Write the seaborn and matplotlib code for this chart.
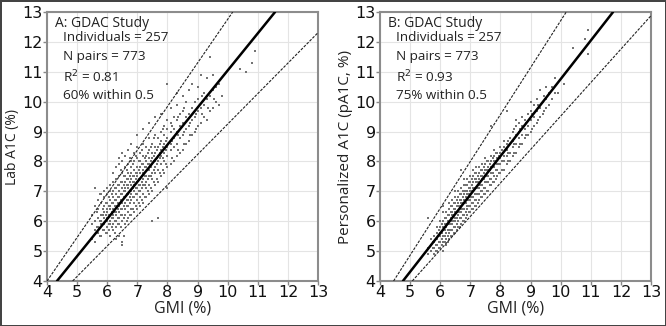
import numpy as np
import pandas as pd
import matplotlib
matplotlib.use("Agg")
import matplotlib.pyplot as plt
import seaborn as sns

# ---------------- data ----------------
ticks = [4, 5, 6, 7, 8, 9, 10, 11, 12, 13]

gmi_levels_a = [5.5, 5.6, 5.7, 5.8, 5.9, 6.0, 6.1, 6.2, 6.3, 6.4, 6.5, 6.6, 6.7, 6.8,
                6.9, 7.0, 7.1, 7.2, 7.3, 7.4, 7.5, 7.6, 7.7, 7.8, 7.9, 8.0, 8.1, 8.2,
                8.3, 8.4, 8.5, 8.6, 8.7, 8.8, 8.9, 9.0, 9.1, 9.2, 9.3, 9.4, 9.5, 9.6,
                9.7, 9.8, 10.4, 10.6, 10.8, 10.9]
a1c_by_level_a = [
    [5.4, 5.9, 6.2],
    [5.3, 5.7, 6.0, 6.5, 7.1],
    [5.6, 5.8, 6.1, 6.4, 6.7],
    [5.5, 5.9, 6.0, 6.2, 6.6, 6.9],
    [5.7, 5.9, 6.1, 6.3, 6.5, 6.8, 7.0],
    [5.6, 5.8, 6.0, 6.1, 6.3, 6.4, 6.6, 6.9, 7.1],
    [5.5, 5.9, 6.0, 6.2, 6.4, 6.5, 6.7, 7.0, 7.2],
    [5.7, 5.9, 6.1, 6.2, 6.4, 6.6, 6.8, 7.0, 7.3, 7.6],
    [5.4, 5.8, 6.0, 6.2, 6.3, 6.5, 6.7, 6.9, 7.1, 7.4, 7.8],
    [5.5, 5.9, 6.1, 6.3, 6.5, 6.6, 6.8, 7.0, 7.2, 7.5, 7.9, 8.1],
    [5.2, 5.3, 6.0, 6.2, 6.4, 6.6, 6.7, 6.9, 7.1, 7.3, 7.6, 8.0, 8.3],
    [5.9, 6.2, 6.4, 6.6, 6.8, 7.0, 7.1, 7.3, 7.5, 7.8, 8.2],
    [6.1, 6.3, 6.5, 6.7, 6.9, 7.1, 7.2, 7.4, 7.6, 7.9, 8.4],
    [6.2, 6.4, 6.7, 6.9, 7.0, 7.2, 7.4, 7.6, 7.8, 8.0, 8.6],
    [6.3, 6.6, 6.8, 7.0, 7.2, 7.3, 7.5, 7.7, 8.0, 8.3],
    [6.4, 6.7, 6.9, 7.1, 7.3, 7.5, 7.6, 7.8, 8.1, 8.5, 8.9],
    [6.5, 6.8, 7.0, 7.2, 7.4, 7.6, 7.8, 8.0, 8.3],
    [6.6, 6.9, 7.2, 7.4, 7.6, 7.7, 7.9, 8.2, 8.6, 9.1],
    [6.8, 7.1, 7.3, 7.5, 7.8, 8.0, 8.2, 8.5],
    [6.9, 7.2, 7.5, 7.7, 7.9, 8.1, 8.4, 8.8, 9.3],
    [6.0, 7.0, 7.4, 7.6, 7.9, 8.1, 8.3, 8.6],
    [7.2, 7.6, 7.8, 8.0, 8.3, 8.5, 8.9, 9.5],
    [6.1, 7.3, 7.7, 8.0, 8.2, 8.5, 8.8],
    [7.5, 7.9, 8.2, 8.4, 8.7, 9.0, 9.6],
    [7.6, 8.0, 8.3, 8.6, 8.9, 9.2],
    [7.1, 7.8, 8.2, 8.5, 8.8, 9.1, 9.4, 10.6],
    [7.9, 8.4, 8.6, 9.0, 9.3, 9.8],
    [8.0, 8.5, 8.8, 9.1, 9.5],
    [8.2, 8.6, 9.0, 9.4, 9.9, 10.3],
    [8.3, 8.8, 9.2, 9.6],
    [8.4, 8.9, 9.3, 9.7, 10.2],
    [8.6, 9.1, 9.5, 10.0],
    [8.7, 9.2, 9.6, 10.4],
    [8.9, 9.4, 9.8, 10.6],
    [9.0, 9.5, 10.0],
    [9.2, 9.7, 10.1, 10.5],
    [9.3, 9.8, 10.9],
    [9.5, 9.9, 10.3],
    [9.4, 10.1, 10.8],
    [9.7, 10.2, 11.5],
    [9.8, 10.4, 10.9],
    [10.0, 10.5],
    [9.9, 10.6],
    [10.2],
    [11.1],
    [11.0],
    [11.3],
    [11.7],
]

gmi_half_a = [5.65, 5.75, 5.85, 5.95, 6.05, 6.15, 6.25, 6.35, 6.45, 6.55, 6.65, 6.75,
              6.85, 6.95, 7.05, 7.15, 7.25, 7.35, 7.45, 7.55, 7.65, 7.75, 7.85, 7.95,
              8.15, 8.35, 8.55, 8.75, 8.95, 9.15, 9.35, 9.55]
a1c_half_a = [
    [5.8, 6.3],
    [5.5, 6.0, 6.9],
    [5.7, 6.2, 6.4],
    [5.6, 6.0, 6.2, 6.6],
    [5.7, 5.9, 6.2, 6.5, 6.8],
    [5.8, 6.1, 6.3, 6.6, 6.9],
    [5.6, 6.0, 6.3, 6.5, 6.7, 7.1],
    [5.9, 6.1, 6.4, 6.6, 6.8, 7.2],
    [5.8, 6.2, 6.4, 6.7, 6.9, 7.3, 7.7],
    [5.5, 6.1, 6.5, 6.8, 7.0, 7.2, 7.5],
    [6.0, 6.5, 6.7, 6.9, 7.2, 7.4, 7.7],
    [6.2, 6.6, 6.8, 7.0, 7.3, 7.5, 8.1],
    [6.4, 6.8, 7.1, 7.3, 7.5, 7.9],
    [6.5, 6.9, 7.1, 7.4, 7.6, 8.2],
    [6.6, 7.0, 7.2, 7.4, 7.7, 8.0],
    [6.7, 7.1, 7.3, 7.5, 7.9, 8.4],
    [6.8, 7.2, 7.5, 7.8, 8.1],
    [7.0, 7.4, 7.7, 7.9, 8.3],
    [7.1, 7.5, 7.8, 8.0, 8.5],
    [7.3, 7.7, 8.0, 8.2, 8.8],
    [7.4, 7.9, 8.1, 8.4],
    [7.6, 8.1, 8.3, 8.6],
    [7.7, 8.1, 8.5, 9.1],
    [7.9, 8.4, 8.7],
    [8.1, 8.7, 9.2],
    [8.4, 8.9, 9.5],
    [8.6, 9.0, 9.8],
    [8.9, 9.3],
    [9.1, 9.6],
    [9.6, 10.2],
    [9.8],
    [10.1],
]

gmi_levels_b = [5.6, 5.7, 5.8, 5.9, 6.0, 6.1, 6.2, 6.3, 6.4, 6.5, 6.6, 6.7, 6.8, 6.9,
                7.0, 7.1, 7.2, 7.3, 7.4, 7.5, 7.6, 7.7, 7.8, 7.9, 8.0, 8.1, 8.2, 8.3,
                8.4, 8.5, 8.6, 8.7, 8.8, 8.9, 9.0, 9.1, 9.2, 9.3, 9.4, 9.5, 9.6, 9.7,
                9.8, 9.9, 10.1, 10.4, 10.8, 10.9]
a1c_by_level_b = [
    [4.9, 5.1, 6.1],
    [5.0, 5.2, 5.4],
    [4.9, 5.1, 5.3, 5.5],
    [5.0, 5.2, 5.4, 5.6, 5.8],
    [5.1, 5.3, 5.5, 5.6, 5.8, 6.0],
    [5.0, 5.3, 5.5, 5.7, 5.8, 6.0, 6.3, 6.5],
    [5.2, 5.4, 5.6, 5.8, 5.9, 6.1, 6.3],
    [5.4, 5.6, 5.7, 5.9, 6.0, 6.2, 6.4, 6.6],
    [5.5, 5.7, 5.9, 6.0, 6.2, 6.3, 6.5, 6.7],
    [5.6, 5.8, 6.0, 6.1, 6.3, 6.4, 6.6, 6.8, 7.0],
    [5.8, 6.0, 6.2, 6.3, 6.5, 6.6, 6.8, 7.0],
    [5.9, 6.1, 6.3, 6.4, 6.6, 6.7, 6.9, 7.1, 7.7],
    [6.0, 6.2, 6.4, 6.6, 6.7, 6.9, 7.0, 7.2, 7.4],
    [6.2, 6.4, 6.5, 6.7, 6.9, 7.0, 7.2, 7.4],
    [6.3, 6.5, 6.7, 6.8, 7.0, 7.1, 7.3, 7.5],
    [6.4, 6.6, 6.8, 7.0, 7.1, 7.3, 7.5, 7.7],
    [6.5, 6.7, 6.9, 7.1, 7.3, 7.4, 7.6, 7.8],
    [6.7, 6.9, 7.1, 7.2, 7.4, 7.6, 7.8],
    [6.8, 7.0, 7.2, 7.4, 7.5, 7.7, 7.9],
    [6.9, 7.1, 7.3, 7.5, 7.7, 7.9, 8.1],
    [7.0, 7.3, 7.5, 7.7, 7.8, 8.0],
    [7.2, 7.4, 7.6, 7.8, 8.0, 8.2, 9.2],
    [7.3, 7.5, 7.8, 8.0, 8.2, 8.4],
    [7.5, 7.7, 7.9, 8.1, 8.3],
    [7.6, 7.9, 8.1, 8.3, 8.5],
    [7.7, 8.0, 8.2, 8.5, 8.7],
    [7.9, 8.2, 8.4, 8.6, 9.7],
    [8.0, 8.3, 8.6, 8.8],
    [8.2, 8.5, 8.7, 9.0],
    [8.3, 8.6, 8.9, 9.2, 9.4],
    [8.5, 8.8, 9.0, 9.3],
    [8.6, 8.9, 9.2, 9.5],
    [8.8, 9.1, 9.4],
    [8.9, 9.2, 9.6],
    [9.0, 9.4, 9.7, 10.0],
    [9.2, 9.5, 9.9],
    [9.3, 9.7, 10.1],
    [9.5, 9.8, 10.4],
    [9.6, 10.0],
    [9.8, 10.1, 10.5],
    [9.9, 10.3],
    [10.1, 10.5],
    [10.3, 10.8],
    [10.3],
    [10.6],
    [11.8],
    [12.1],
    [11.6, 12.4],
]

gmi_half_b = [5.75, 5.85, 5.95, 6.05, 6.15, 6.25, 6.35, 6.45, 6.55, 6.65, 6.75, 6.85,
              6.95, 7.05, 7.15, 7.25, 7.35, 7.45, 7.55, 7.65, 7.75, 7.85, 7.95, 8.05,
              8.25, 8.45, 8.65, 8.85, 9.05, 9.25, 9.45]
a1c_half_b = [
    [5.1, 5.3],
    [5.0, 5.2, 5.4],
    [5.1, 5.3, 5.5, 5.7],
    [5.2, 5.4, 5.6, 5.9],
    [5.3, 5.5, 5.7, 5.9, 6.1],
    [5.3, 5.5, 5.7, 6.0, 6.2],
    [5.5, 5.7, 5.9, 6.1, 6.3, 6.5],
    [5.6, 5.8, 6.0, 6.2, 6.4, 6.6],
    [5.7, 5.9, 6.1, 6.3, 6.5, 6.7],
    [5.8, 6.1, 6.3, 6.5, 6.7, 6.9],
    [6.0, 6.2, 6.4, 6.6, 6.8, 7.0],
    [6.1, 6.3, 6.6, 6.8, 7.0, 7.2],
    [6.3, 6.5, 6.7, 6.9, 7.1, 7.3],
    [6.4, 6.6, 6.8, 7.0, 7.2, 7.4],
    [6.5, 6.7, 6.9, 7.1, 7.4, 7.6],
    [6.6, 6.9, 7.1, 7.3, 7.5],
    [6.8, 7.0, 7.2, 7.5, 7.7],
    [6.9, 7.1, 7.4, 7.6, 7.8],
    [7.0, 7.3, 7.5, 7.7, 8.0],
    [7.2, 7.4, 7.7, 7.9],
    [7.3, 7.6, 7.8, 8.1],
    [7.4, 7.7, 8.0, 8.3],
    [7.6, 7.9, 8.2],
    [7.7, 8.0, 8.4],
    [8.0, 8.3, 8.7],
    [8.3, 8.6, 9.1],
    [8.6, 9.1],
    [8.9, 9.3],
    [9.1, 9.6],
    [9.4, 9.9],
    [9.7, 10.2],
]

# fitted line and interval bounds: (GMI where A1C = 4, slope)
lines_a_anchor = [4.33, 4.00, 4.85]
lines_a_slope = [1.243, 1.46, 1.02]
lines_b_anchor = [4.76, 4.45, 5.07]
lines_b_slope = [1.29, 1.57, 1.12]

title_a = "A: GDAC Study"
title_b = "B: GDAC Study"
stats_a = ["Individuals = 257", "N pairs = 773", "R$^2$ = 0.81", "60% within 0.5"]
stats_b = ["Individuals = 257", "N pairs = 773", "R$^2$ = 0.93", "75% within 0.5"]
ylabel_a = "Lab A1C (%)"
ylabel_b = "Personalized A1C (pA1C, %)"
xlabel = "GMI (%)"


def expand(level_sets):
    xs, ys = [], []
    for levels, groups in level_sets:
        for lv, g in zip(levels, groups):
            for v in g:
                xs.append(lv)
                ys.append(v)
    return pd.DataFrame({"GMI": xs, "A1C": ys})


df_a = expand([(gmi_levels_a, a1c_by_level_a), (gmi_half_a, a1c_half_a)])
df_b = expand([(gmi_levels_b, a1c_by_level_b), (gmi_half_b, a1c_half_b)])

# ---------------- plot ----------------
sns.set_theme(style="whitegrid")
plt.rcParams["font.family"] = ["DejaVu Sans"]
text_font = ["Open Sans", "DejaVu Sans"]

fig = plt.figure(figsize=(6.66, 3.26), dpi=100, edgecolor="#444444", linewidth=2)
fig.patch.set_facecolor("white")
ax_a = fig.add_axes([0.0706, 0.138, 0.407, 0.825])
ax_b = fig.add_axes([0.5706, 0.138, 0.407, 0.825])


def draw(ax, df, anchors, slopes, title, stats, ylabel, ylabel_size):
    ax.set_facecolor("white")
    sns.scatterplot(data=df, x="GMI", y="A1C", ax=ax, s=2.0, color="#737373",
                    marker="s", linewidth=0, zorder=2)
    for i, (a, s) in enumerate(zip(anchors, slopes)):
        if i == 0:
            ax.axline((a, 4.0), slope=s, color="black", lw=1.8, zorder=3)
        else:
            ax.axline((a, 4.0), slope=s, color="#222222", lw=0.8,
                      linestyle=(0, (2.5, 1.2)), zorder=3)
    ax.set_xlim(4, 13)
    ax.set_ylim(4, 13)
    ax.set_xticks(ticks)
    ax.set_yticks(ticks)
    ax.tick_params(axis="both", labelsize=11.5, length=3, width=1, color="#888888",
                   pad=0, colors="#111111")
    ax.tick_params(axis="both", which="both", bottom=True, left=True)
    ax.grid(True, color="#e4e4e4", lw=0.8)
    for sp in ax.spines.values():
        sp.set_color("#8c8c8c")
        sp.set_linewidth(1.5)
    ax.set_xlabel(xlabel, fontsize=11.5, family=text_font, labelpad=0, color="#222222")
    ax.set_ylabel(ylabel, fontsize=ylabel_size, family=text_font, labelpad=2,
                  color="#222222")
    ax.text(0.03, 0.959, title, transform=ax.transAxes, fontsize=10,
            family=text_font, va="center", ha="left", color="#222222")
    ys = [0.907, 0.833, 0.758, 0.689]
    for t, y in zip(stats, ys):
        ax.text(0.059, y, t, transform=ax.transAxes, fontsize=9.7,
                family=text_font, va="center", ha="left", color="#222222")


draw(ax_a, df_a, lines_a_anchor, lines_a_slope, title_a, stats_a, ylabel_a, 10)
draw(ax_b, df_b, lines_b_anchor, lines_b_slope, title_b, stats_b, ylabel_b, 11)

fig.savefig("out.png", dpi=100, edgecolor=fig.get_edgecolor())
